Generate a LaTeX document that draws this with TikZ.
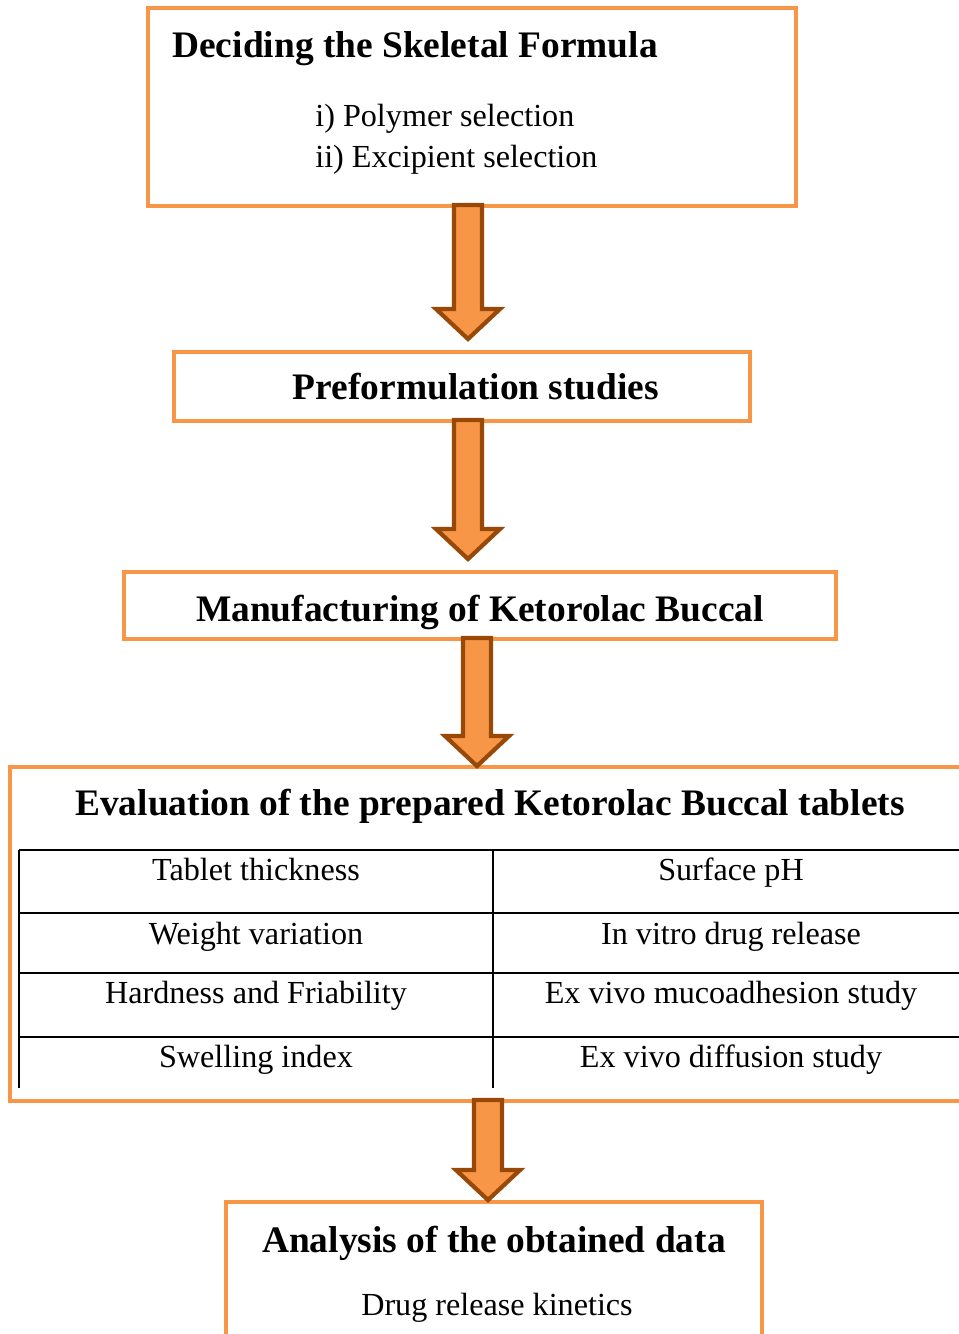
\documentclass[tikz,border=0pt]{standalone}
\usepackage{fontspec}
\setmainfont{Liberation Serif}
\usetikzlibrary{calc}

\definecolor{boxorange}{HTML}{F79646}
\definecolor{arrowbrown}{HTML}{984807}

% block arrow from #1 down to #2, shaft centred at x = #3, tip #4 above #2
\newcommand{\flowarrow}[4]{%
  \coordinate (fa-x) at (#3,0);
  \draw[stagearrow] ($(fa-x |- #1.south)+(-14,-1)$) -- ($(fa-x |- #2.north)+(-14,-#4-30)$)
    -- ($(fa-x |- #2.north)+(-32,-#4-30)$) -- ($(fa-x |- #2.north)+(0,-#4)$)
    -- ($(fa-x |- #2.north)+(32,-#4-30)$) -- ($(fa-x |- #2.north)+(14,-#4-30)$)
    -- ($(fa-x |- #1.south)+(14,-1)$) -- cycle;}

\begin{document}
\begin{tikzpicture}[
        x=0.02cm, y=-0.02cm,
        stagebox/.style = {rectangle, draw=boxorange, line width=2.3pt, inner sep=0pt, outer sep=0pt},
        stagearrow/.style = {fill=boxorange, draw=arrowbrown, line width=2.4pt, line join=miter},
        titletext/.style = {inner sep=0pt, anchor=base, font=\fontsize{21.3}{25}\selectfont\bfseries},
        bodytext/.style = {inner sep=0pt, anchor=base, font=\fontsize{18.3}{22}\selectfont},
        tablerule/.style = {draw=black, line width=0.9pt}
        ]
        \useasboundingbox (0,0) rectangle (959,1334);
        \clip (0,0) rectangle (959,1334);

        % stage boxes
        \node (deciding) [stagebox, minimum width=12.96cm, minimum height=3.96cm] at (472,107) {};
        \node (preform) [stagebox, minimum width=11.52cm, minimum height=1.38cm] at (462,386.5) {};
        \node (manuf) [stagebox, minimum width=14.24cm, minimum height=1.34cm] at (480,605.5) {};
        \node (evaluation) [stagebox, minimum width=20cm, minimum height=6.68cm] at (510,934) {};
        \node (analysis) [stagebox, minimum width=10.72cm, minimum height=3.96cm] at (494,1301) {};

        % texts
        \node (decidingtitle) [titletext, anchor=base west] at (172,58) {Deciding the Skeletal Formula};
        \node (polymer) [bodytext, anchor=base west] at (315,127) {i) Polymer selection};
        \node (excipient) [bodytext, anchor=base west] at (315,168) {ii) Excipient selection};
        \node (preformtitle) [titletext] at (476,399) {Preformulation studies};
        \node (manuftitle) [titletext] at (480,621) {Manufacturing of Ketorolac Buccal};
        \node (evaltitle) [titletext] at (490,815) {Evaluation of the prepared Ketorolac Buccal tablets};
        \node (analysistitle) [titletext] at (494,1252) {Analysis of the obtained data};
        \node (kinetics) [bodytext] at (497,1315) {Drug release kinetics};

        % evaluation table
        \foreach \y in {850,913,973,1037}
                \draw[tablerule] (19,\y) -- (1010,\y);
        \draw[tablerule] (19,850) -- (19,1088);
        \draw[tablerule] (493,850) -- (493,1088);
        \foreach \y/\lefttest/\righttest [count=\i] in {880/Tablet thickness/Surface pH,
                        944/Weight variation/In vitro drug release,
                        1003/Hardness and Friability/Ex vivo mucoadhesion study,
                        1067/Swelling index/Ex vivo diffusion study} {
                \node (left\i) [bodytext] at (256,\y) {\lefttest};
                \node (right\i) [bodytext] at (731,\y) {\righttest};
        }

        % arrows between stages
        \flowarrow{deciding}{preform}{468}{13}
        \flowarrow{preform}{manuf}{468}{13}
        \flowarrow{manuf}{evaluation}{477}{1}
        \flowarrow{evaluation}{analysis}{488}{2}
\end{tikzpicture}
\end{document}
